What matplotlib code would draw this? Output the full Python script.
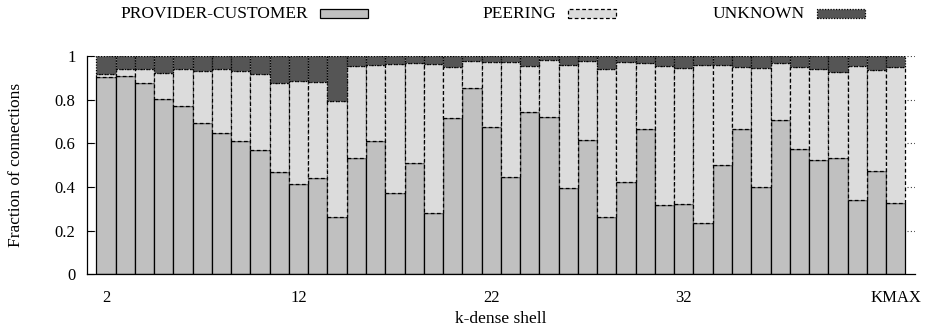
import matplotlib
matplotlib.use("Agg")
import matplotlib.pyplot as plt
from matplotlib.patches import Rectangle

# k-dense shells (last one is the maximal shell)
shells = [str(k) for k in range(2, 43)] + ["KMAX"]
tick_labels = ["2", "12", "22", "32", "KMAX"]

# Fraction of connections per relationship type in each shell
provider_customer = [0.902, 0.908, 0.876, 0.805, 0.770, 0.693, 0.647, 0.612, 0.569, 0.469,
                     0.414, 0.440, 0.264, 0.533, 0.612, 0.371, 0.510, 0.282, 0.717, 0.853,
                     0.676, 0.444, 0.743, 0.722, 0.394, 0.615, 0.264, 0.421, 0.667, 0.319,
                     0.322, 0.235, 0.499, 0.667, 0.401, 0.705, 0.574, 0.522, 0.531, 0.340,
                     0.473, 0.325]
peering = [0.014, 0.031, 0.066, 0.116, 0.172, 0.240, 0.295, 0.318, 0.348, 0.407,
           0.473, 0.439, 0.531, 0.421, 0.345, 0.592, 0.458, 0.683, 0.231, 0.124,
           0.295, 0.527, 0.211, 0.258, 0.565, 0.364, 0.676, 0.553, 0.299, 0.634,
           0.623, 0.726, 0.462, 0.281, 0.546, 0.265, 0.376, 0.417, 0.396, 0.616,
           0.461, 0.626]
unknown = [0.084, 0.061, 0.058, 0.079, 0.058, 0.067, 0.058, 0.070, 0.083, 0.124,
           0.113, 0.121, 0.205, 0.046, 0.043, 0.037, 0.032, 0.035, 0.052, 0.023,
           0.029, 0.029, 0.046, 0.020, 0.041, 0.021, 0.060, 0.026, 0.034, 0.047,
           0.055, 0.039, 0.039, 0.052, 0.053, 0.030, 0.050, 0.061, 0.073, 0.044,
           0.066, 0.049]

plt.rcParams["font.family"] = ["Liberation Serif", "DejaVu Serif"]

C_PC, C_PEER, C_UNK = "#c0c0c0", "#dcdcdc", "#555555"
DASH = (0, (3.0, 2.0))
DOT = (0, (1.0, 1.2))

fig = plt.figure(figsize=(9.25, 3.32), dpi=100)
ax = fig.add_axes([86.7 / 925, 1 - 274.3 / 332, (915 - 86.7) / 925, (274.3 - 56) / 332])

x = list(range(len(shells)))
bottom_peer = provider_customer
bottom_unk = [a + b for a, b in zip(provider_customer, peering)]

ax.bar(x, provider_customer, width=1.0, color=C_PC, edgecolor="black",
       linewidth=0.9, zorder=2)
ax.bar(x, peering, width=1.0, bottom=bottom_peer, color=C_PEER, edgecolor="black",
       linewidth=0.9, linestyle=DASH, zorder=3)
ax.bar(x, unknown, width=1.0, bottom=bottom_unk, color=C_UNK, edgecolor="black",
       linewidth=0.9, linestyle=DOT, zorder=4)

ax.set_xlim(-1, len(shells))
ax.set_ylim(0, 1)

yt = [0, 0.2, 0.4, 0.6, 0.8, 1.0]
ax.set_yticks(yt)
ax.set_yticklabels(["0", "0.2", "0.4", "0.6", "0.8", "1"])
for y in yt[1:]:
    ax.axhline(y, color="0.25", linestyle=(0, (1, 2)), linewidth=0.8, zorder=1)

ax.set_xticks([shells.index(t) for t in tick_labels])
ax.set_xticklabels(tick_labels)

ax.tick_params(axis="y", direction="in", length=5, width=0.8, pad=8, labelsize=12)
ax.tick_params(axis="x", length=0, pad=11, labelsize=12)

for s in ("top", "right"):
    ax.spines[s].set_visible(False)
for s in ("left", "bottom"):
    ax.spines[s].set_linewidth(0.9)

ax.set_xlabel("k-dense shell", fontsize=12.5, labelpad=4)
ax.set_ylabel("Fraction of connections", fontsize=12.5, labelpad=22)

# Legend row across the top
entries = [("PROVIDER-CUSTOMER", 320, C_PC, "solid"),
           ("PEERING", 568, C_PEER, DASH),
           ("UNKNOWN", 817, C_UNK, DOT)]
for label, x0, fc, ls in entries:
    fig.text((x0 - 12) / 925, 1 - 13.5 / 332, label, ha="right", va="center", fontsize=12.5)
    fig.patches.append(Rectangle((x0 / 925, 1 - 17.5 / 332), 48 / 925, 8.5 / 332,
                                 transform=fig.transFigure, facecolor=fc,
                                 edgecolor="black", linewidth=0.9, linestyle=ls))

fig.savefig("out.png", dpi=100)
